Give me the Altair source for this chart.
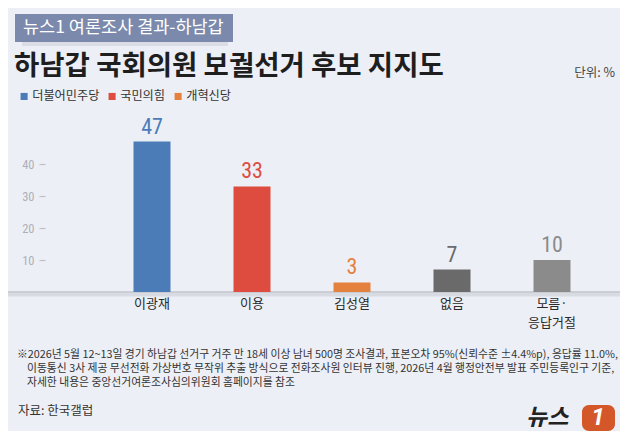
import altair as alt
import pandas as pd


candidates = ["이광재", "이용", "김성열", "없음", "모름·응답거절"]
support = [47, 33, 3, 7, 10]
parties = ["더불어민주당", "국민의힘", "개혁신당", "없음", "모름·응답거절"]
party_colors = ["#4b7cb8", "#dd4c3f", "#e5813e", "#6a6a6a", "#8b8b8b"]
legend_parties = ["더불어민주당", "국민의힘", "개혁신당"]
y_ticks = [10, 20, 30, 40]

header_text = "뉴스1 여론조사 결과-하남갑"
title_text = "하남갑 국회의원 보궐선거 후보 지지도"
unit_text = "단위: %"
note_lines = [
    "※2026년 5월 12~13일 경기 하남갑 선거구 거주 만 18세 이상 남녀 500명 조사결과, 표본오차 95%(신뢰수준 ±4.4%p), 응답률 11.0%,",
    "이동통신 3사 제공 무선전화 가상번호 무작위 추출 방식으로 전화조사원 인터뷰 진행, 2026년 4월 행정안전부 발표 주민등록인구 기준,",
    "자세한 내용은 중앙선거여론조사심의위원회 홈페이지를 참조",
]
source_text = "자료: 한국갤럽"

KR = "Noto Sans CJK KR"
NUM = "Roboto Condensed, Liberation Sans Narrow, DejaVu Sans Condensed, Roboto"
BG = "#edeff6"

df = pd.DataFrame({"cand": candidates, "value": support, "party": parties})

color = alt.Color(
    "party:N",
    scale=alt.Scale(domain=parties, range=party_colors),
    legend=alt.Legend(
        values=legend_parties, orient="none", legendX=-84, legendY=-22,
        direction="horizontal", title=None, symbolType="square", symbolSize=50,
        symbolStrokeWidth=0, labelFont=KR, labelFontSize=12.2, labelColor="#333",
        labelOffset=2, columnPadding=6,
    ),
)

x = alt.X(
    "cand:N", sort=candidates,
    scale=alt.Scale(paddingInner=0.63, paddingOuter=0.315),
    axis=alt.Axis(
        title=None, domain=False, ticks=False, labelAngle=0, labelFont=KR,
        labelFontSize=13, labelColor="#2a2a2a", labelPadding=5, labelBaseline="top",
        labelLineHeight=19,
        labelExpr="datum.label == '모름·응답거절' ? ['모름·', '응답거절'] : datum.label",
    ),
)
y = alt.Y(
    "value:Q", scale=alt.Scale(domain=[0, 56.25]),
    axis=alt.Axis(
        title=None, values=y_ticks, domain=False, grid=False, offset=57,
        tickSize=6, tickColor="#bfc1c9", tickWidth=1.2, labelColor="#aeb0b8",
        labelFont=NUM, labelFontSize=12.5, labelPadding=5,
    ),
)

bars = alt.Chart(df).mark_bar().encode(x=x, y=y, color=color)

values = alt.Chart(df).mark_text(
    baseline="bottom", dy=-3, fontSize=22, font=NUM
).encode(x=x, y=y, text="value:Q", color=color)


def label(text, xpos, ypos, **kw):
    return alt.Chart(pd.DataFrame({"t": [text]})).mark_text(**kw).encode(
        text="t:N", x=alt.value(xpos), y=alt.value(ypos)
    )


# header box and its soft shadow
shadow = alt.Chart(pd.DataFrame({"a": [0]})).mark_rect(
    color="#c9ccd6", opacity=0.5
).encode(x=alt.value(-80), x2=alt.value(126), y=alt.value(-70), y2=alt.value(-66))
box = alt.Chart(pd.DataFrame({"a": [0]})).mark_rect(color="#7b8aac").encode(
    x=alt.value(-87), x2=alt.value(131), y=alt.value(-98), y2=alt.value(-70)
)
header = label(header_text, -79, -84, align="left", baseline="middle",
               font=KR, fontSize=17.5, color="white")
title = label(title_text, -88, -45, align="left", baseline="middle",
              font=KR, fontSize=27.5, fontWeight="bold", color="#1e1e1e")
unit = label(unit_text, 513, -39, align="right", baseline="middle",
             font=KR, fontSize=12.5, color="#444")

# baseline with a light shadow below
base_shadow = alt.Chart(pd.DataFrame({"a": [0]})).mark_rule(
    color="#d9dbe3", strokeWidth=4
).encode(x=alt.value(-94), x2=alt.value(518), y=alt.value(182.5))
base = alt.Chart(pd.DataFrame({"a": [0]})).mark_rule(
    color="#c2c4cc", strokeWidth=1.5
).encode(x=alt.value(-94), x2=alt.value(518), y=alt.value(180))

# footnote, hanging indent after the ※ mark
note_style = dict(align="left", baseline="middle", font=KR, fontSize=10.8, color="#333")
note1 = label(note_lines[0], -85, 243, **note_style)
note2 = label(note_lines[1], -75, 257, **note_style)
note3 = label(note_lines[2], -75, 270.5, **note_style)
source = label(source_text, -84, 299, align="left", baseline="middle",
               font=KR, fontSize=12.5, color="#333")

# news1 logo
logo_word = label("뉴스", 424, 306, align="left", baseline="middle", font=KR,
                  fontSize=23, fontWeight="bold", fontStyle="italic", color="#222")
logo_box = alt.Chart(pd.DataFrame({"a": [0]})).mark_rect(
    color="#d4572a", cornerRadius=7
).encode(x=alt.value(480), x2=alt.value(513), y=alt.value(293), y2=alt.value(319))
logo_one = label("1", 496, 306, align="center", baseline="middle", font="Roboto",
                 fontSize=24, fontWeight="bold", fontStyle="italic", color="white")

chart = alt.layer(
    shadow, box, header, title, unit, base_shadow, base, bars, values,
    note1, note2, note3, source, logo_word, logo_box, logo_one,
).properties(
    width=500,
    height=180,
    autosize=alt.AutoSizeParams(type="none"),
    padding={"left": 94, "top": 104, "right": 18, "bottom": 139},
    background=BG,
).configure_view(stroke=None)

chart.save("out.html", embed_options={"renderer": "svg", "actions": False})
